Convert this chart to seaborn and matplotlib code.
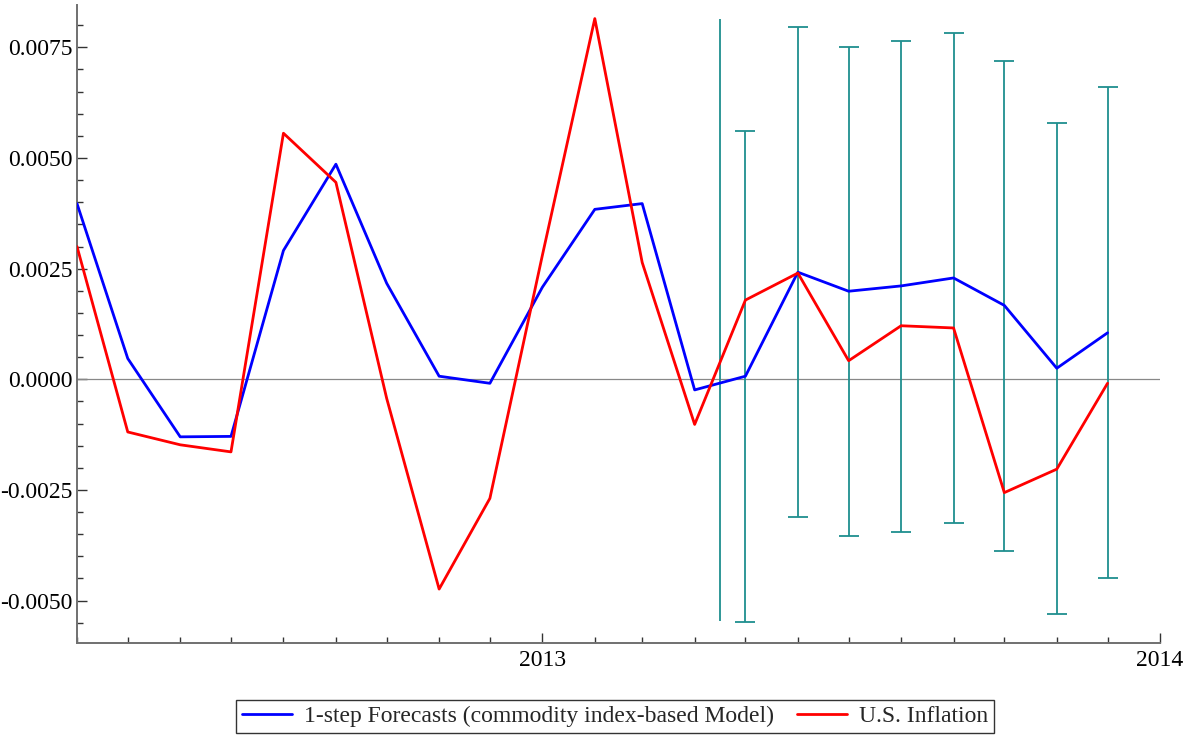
import matplotlib
matplotlib.use("Agg")
import matplotlib.pyplot as plt
import matplotlib.dates as mdates
import matplotlib.ticker as mticker
import seaborn as sns
import pandas as pd
import numpy as np

# ---- data ----
months = pd.date_range("2012-04-01", "2013-12-01", freq="MS")
forecast = [0.00397, 0.00047, -0.00130, -0.00129, 0.00291, 0.00486, 0.00217,
            0.00007, -0.00009, 0.00208, 0.00384, 0.00397, -0.00024,
            0.00007, 0.00242, 0.00199, 0.00211, 0.00229, 0.00167, 0.00025, 0.00105]
inflation = [0.00300, -0.00119, -0.00148, -0.00164, 0.00556, 0.00445, -0.00043,
             -0.00474, -0.00269, 0.00280, 0.00815, 0.00264, -0.00102,
             0.00179, 0.00240, 0.00042, 0.00121, 0.00116, -0.00256, -0.00203, -0.00009]

band_dates = pd.to_datetime(["2013-05-01", "2013-06-01", "2013-07-01", "2013-08-01",
                             "2013-09-01", "2013-10-01", "2013-11-01", "2013-12-01"])
band_upper = [0.00560, 0.00795, 0.00751, 0.00764, 0.00783, 0.00720, 0.00578, 0.00660]
band_lower = [-0.00549, -0.00311, -0.00355, -0.00344, -0.00324, -0.00387, -0.00530, -0.00449]

split_date = pd.to_datetime(["2013-04-16"])
split_upper = [0.00813]
split_lower = [-0.00547]

yticks = [-0.0050, -0.0025, 0.0, 0.0025, 0.0050, 0.0075]
label_fc = "1-step Forecasts (commodity index-based Model)"
label_inf = "U.S. Inflation"

# ---- style ----
sns.set_style("white")
plt.rcParams["font.family"] = ["Liberation Serif", "DejaVu Serif"]
plt.rcParams["axes.unicode_minus"] = False

W, H = 1199, 736
fig = plt.figure(figsize=(W / 100, H / 100), dpi=100)
ax = fig.add_axes([77 / W, 1 - 643 / H, (1160 - 77) / W, (643 - 5) / H])

df = pd.DataFrame({"date": months, "forecast": forecast, "inflation": inflation})

ax.axhline(0, color="#888888", lw=0.9, zorder=1)

# forecast intervals
bu = np.array(band_upper)
bl = np.array(band_lower)
ax.errorbar(band_dates, (bu + bl) / 2, yerr=(bu - bl) / 2, fmt="none",
            ecolor="#1f8f8f", elinewidth=1.3, capsize=7, capthick=1.3, zorder=2)
ax.vlines(split_date, split_lower, split_upper, color="#1f8f8f", lw=1.3, zorder=2)

sns.lineplot(data=df, x="date", y="forecast", color="#0000ff", lw=2.0, ax=ax,
             label=label_fc, legend=False, zorder=3)
sns.lineplot(data=df, x="date", y="inflation", color="#ff0000", lw=2.0, ax=ax,
             label=label_inf, legend=False, zorder=3)

ax.set_xlim(pd.Timestamp("2012-04-01"), pd.Timestamp("2014-01-01"))
ax.set_ylim(-0.005958, 0.008457)
ax.set_xlabel("")
ax.set_ylabel("")

ax.xaxis.set_major_locator(mdates.YearLocator())
ax.xaxis.set_major_formatter(mdates.DateFormatter("%Y"))
ax.xaxis.set_minor_locator(mdates.MonthLocator())
ax.set_yticks(yticks)
ax.yaxis.set_major_formatter(mticker.FormatStrFormatter("%.4f"))
ax.yaxis.set_minor_locator(mticker.MultipleLocator(0.0005))

for s in ["top", "right"]:
    ax.spines[s].set_visible(False)
for s in ["left", "bottom"]:
    ax.spines[s].set_color("#707070")
    ax.spines[s].set_linewidth(1.4)

ax.tick_params(axis="both", which="both", bottom=True, left=True, top=False, right=False)
ax.tick_params(axis="both", which="major", direction="in", length=7, width=1.0,
               color="#333333", labelsize=17, labelcolor="black")
ax.tick_params(axis="both", which="minor", direction="in", length=4, width=1.0,
               color="#333333")
ax.tick_params(axis="y", which="major", pad=3)
ax.tick_params(axis="x", which="major", pad=5)

handles, labels = ax.get_legend_handles_labels()
leg = fig.legend(handles, labels, loc="center", bbox_to_anchor=(0.513, 0.0265),
                 ncol=2, fontsize=17, frameon=True, fancybox=False,
                 edgecolor="#333333", framealpha=1, borderpad=0.25,
                 handlelength=2.1, handletextpad=0.5, columnspacing=1.0)
leg.get_frame().set_linewidth(1.0)

fig.savefig("out.png", dpi=100)
